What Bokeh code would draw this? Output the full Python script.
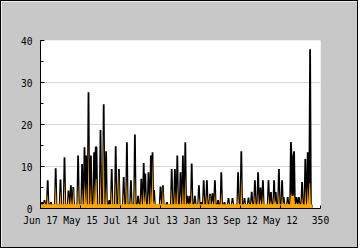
import math
from bokeh.plotting import figure
from bokeh.models import (Range1d, FixedTicker, SingleIntervalTicker, Label,
                          ColumnDataSource)
from bokeh.embed import file_html
from bokeh.resources import INLINE

# ---- data ----
visits = [
    .7, .7, 1.5, .7, .7, 2, .7, .7, .7, 6.7,
    .7, .7, .7, 1.5, .7, .7, .7, .7, .7, 9.6,
    .7, .7, .7, .7, .7, 6.9, .7, .7, .7, .7,
    12.2, .7, .7, .7, .7, 4.3, .7, .7, 5.5, .7,
    .7, 5.1, .7, .7, .7, .7, .7, 12.6, .7, .7,
    .7, .7, 10.6, .7, .7, 14.6, .7, 12.6, .7, .7,
    27.7, .7, .7, 12.6, .7, .7, .7, 13.4, .7, 14.6,
    14.6, .7, .7, .7, .7, 18.7, .7, .7, .7, 24.8,
    .7, .7, 13.6, .7, .7, .7, 2, .7, .7, 9.4,
    .7, .7, .7, .7, 14.8, .7, .7, .7, 9.4, .7,
    .7, .7, .7, .7, 7.5, .7, .7, .7, 15.8, .7,
    .7, .7, .7, 6.7, .7, .7, .7, .7, 17.6, .7,
    .7, .7, 3, .7, .7, .7, 7.1, .7, .7, 10.8,
    .7, 8.3, .7, .7, .7, 8.6, .7, .7, 12.6, .7,
    13.4, .7, 4.4, .7, .7, .7, .7, .7, .7, .7,
    5.2, .7, .7, 5.5, .7, .7, .7, .7, 1.5, .7,
    .7, .7, .7, .7, 9.4, .7, .7, .7, 9.4, .7,
    .7, 12.6, .7, .7, .7, 8.6, .7, .7, 12.6, .7,
    .7, 15.8, .7, .7, 3, .7, .7, 3, .7, 10.7,
    .7, .7, .7, 3, .7, .7, .7, .7, 5.5, .7,
    .7, 1.5, .7, .7, 6.7, .7, .7, .7, 6.7, .7,
    .7, .7, 3.5, .7, .7, 3.6, .7, .7, 6.7, .7,
    .7, .7, 2, .7, .7, .7, 8.6, .7, .7, .7,
    1.5, .7, .7, .7, .7, 2.5, .7, .7, .7, .7,
    2.5, .7, .7, .7, .7, .7, .7, 8.6, .7, .7,
    .7, 13.6, .7, .7, .7, 2.5, .7, .7, .7, .7,
    2.6, .7, .7, .7, 4, .7, .7, .7, 6.7, .7,
    .7, .7, 8.6, .7, .7, 5, .7, .7, 6.7, .7,
    .7, .7, .7, .7, .7, 6.7, .7, .7, 3.9, .7,
    .7, .7, 6.7, .7, 3.9, .7, .7, .7, 9.4, .7,
    .7, .7, 6.7, .7, 2.7, .7, .7, .7, .7, 2.7,
    .7, .7, .7, 15.8, 11.8, 11.9, 11.8, 13.6, .7, .7,
    2.7, .7, .7, 2.7, .7, .7, .7, 6.3, .7, .7,
    .7, 11.8, .7, .7, 13.4, .7, 6, 37.9, .7, .7,
    .7,
]

unique_visits = [
    1, 1, 1, 1, 1, 1.5, 1, 1, 1, 3.6,
    1, 1, 1, 1, 1, 1, 1, 1, 1, 6,
    1, 1, 1, 1, 1, 4.3, 1, 1, 1, 1,
    6.7, 1, 1, 1, 1, 3, 1, 1, 3, 1,
    1, 5, 1, 1, 1, 1, 1, 6, 1, 1,
    1, 1, 5, 1, 1, 7, 1, 6, 1, 1,
    15.8, 1, 1, 6, 1, 1, 1, 6, 1, 7,
    7, 1, 1, 1, 1, 9.5, 1, 1, 1, 18.2,
    1, 1, 6, 1, 1, 1, 1, 1, 1, 5,
    1, 1, 1, 1, 7, 1, 1, 1, 9.4, 1,
    1, 1, 1, 1, 4, 1, 1, 1, 8, 1,
    1, 1, 1, 3, 1, 1, 1, 1, 8, 1,
    1, 1, 1.5, 1, 1, 1, 3.5, 1, 1, 5,
    1, 4, 1, 1, 1, 4, 1, 1, 6, 1,
    12.2, 1, 2, 1, 1, 1, 1, 1, 1, 1,
    2.5, 1, 1, 5.5, 1, 1, 1, 1, 1, 1,
    1, 1, 1, 1, 5, 1, 1, 1, 4.5, 1,
    1, 6, 1, 1, 1, 4, 1, 1, 6, 1,
    1, 8, 1, 1, 1.5, 1, 1, 1.5, 1, 5,
    1, 1, 1, 1.5, 1, 1, 1, 1, 3, 1,
    1, 1, 1, 1, 3.5, 1, 1, 1, 3.5, 1,
    1, 1, 3.5, 1, 1, 2, 1, 1, 4, 1,
    1, 1, 1, 1, 1, 1, 4, 1, 1, 1,
    1, 1, 1, 1, 1, 1.5, 1, 1, 1, 1,
    1.5, 1, 1, 1, 1, 1, 1, 4, 1, 1,
    1, 7.9, 1, 1, 1, 1.5, 1, 1, 1, 1,
    1.5, 1, 1, 1, 2, 1, 1, 1, 3.5, 1,
    1, 1, 4, 1, 1, 2.5, 1, 1, 3.5, 1,
    1, 1, 1, 1, 1, 3.5, 1, 1, 2, 1,
    1, 1, 3.5, 1, 2, 1, 1, 1, 4.5, 1,
    1, 1, 3.5, 1, 1.5, 1, 1, 1, 1, 1.5,
    1, 1, 1, 4, 3, 3, 3, 3.5, 1, 1,
    1.5, 1, 1, 1.5, 1, 1, 1, 3, 1, 1,
    1, 5, 1, 1, 5.5, 1, 6, 6, 1, 1,
    0.5,
]

x_ticks = [0, 50, 100, 150, 200, 250, 300, 350]
x_tick_labels = ["Jun 17", "May 15", "Jul 14", "Jul 13", "Jan 13", "Sep 12", "May 12", "350"]

day = list(range(len(visits)))
src = ColumnDataSource(dict(day=day, visits=visits, uniq=unique_visits,
                            zero=[0] * len(day)))

p = figure(width=358, height=248, output_backend="svg", toolbar_location=None,
           x_range=Range1d(0, 350), y_range=Range1d(0, 40),
           min_border_left=39, min_border_right=39,
           min_border_top=39, min_border_bottom=41)
p.styles = {"border": "1px solid black"}
p.background_fill_color = "white"
p.border_fill_color = "#c8c8c8"
p.outline_line_color = None

p.varea(x="day", y1="zero", y2="visits", source=src, fill_color="black")
p.line(x="day", y="visits", source=src, line_color="black", line_width=1.8)
p.varea(x="day", y1="zero", y2="uniq", source=src, fill_color="#ffa500")

mono = "DejaVu Sans Mono"

xa = p.xaxis[0]
xa.ticker = FixedTicker(ticks=x_ticks)
xa.major_label_overrides = {t: l for t, l in zip(x_ticks, x_tick_labels)}
xa.major_tick_in = 3
xa.major_tick_out = 0
xa.minor_tick_line_color = None
xa.major_label_standoff = 6
xa.axis_line_color = "black"
xa.major_tick_line_color = "black"
xa.major_label_text_font = mono
xa.major_label_text_font_size = "9.6px"
xa.major_label_text_color = "black"

ya = p.yaxis[0]
ya.ticker = SingleIntervalTicker(interval=10, num_minor_ticks=2)
ya.major_tick_in = 4
ya.major_tick_out = 0
ya.minor_tick_in = 3
ya.minor_tick_out = 0
ya.major_label_standoff = 8
ya.axis_line_color = "black"
ya.major_tick_line_color = "black"
ya.minor_tick_line_color = "black"
ya.major_label_text_font = mono
ya.major_label_text_font_size = "9.6px"
ya.major_label_text_color = "black"

p.xgrid.visible = False
p.ygrid.grid_line_color = "#d6d6d6"
p.ygrid.grid_line_width = 1

p.add_layout(Label(x=350, y=-7.6, text="Date", text_align="right",
                   text_baseline="alphabetic", text_font=mono,
                   text_font_size="11px", text_font_style="bold",
                   text_color="black"))
p.add_layout(Label(x=-38.75, y=20, text="Visits", angle=math.pi / 2,
                   text_align="center", text_baseline="middle", text_font=mono,
                   text_font_size="11px", text_font_style="bold",
                   text_color="black"))

open("out.html", "w").write(file_html(p, INLINE))
